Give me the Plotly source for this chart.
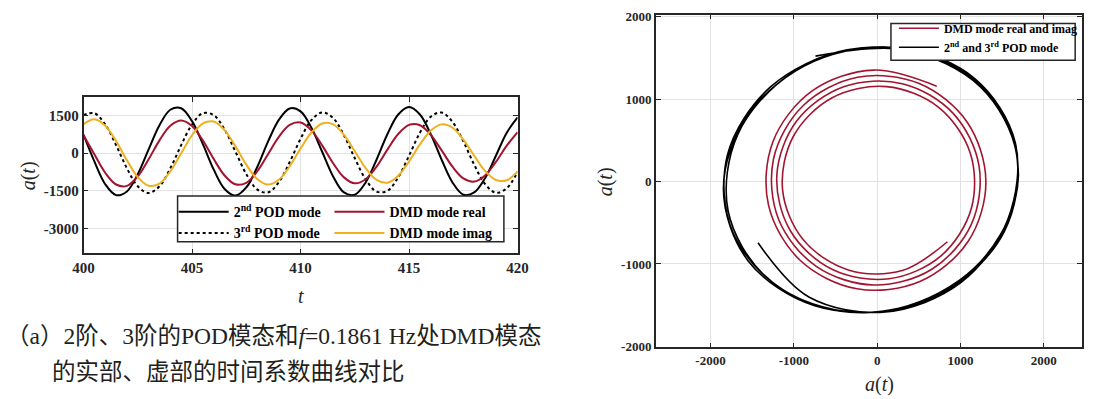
import plotly.graph_objects as go

# ---------------- data ----------------
t = [400.0, 400.5, 401.0, 401.5, 402.0, 402.5, 403.0, 403.5, 404.0, 404.5,
     405.0, 405.5, 406.0, 406.5, 407.0, 407.5, 408.0, 408.5, 409.0, 409.5,
     410.0, 410.5, 411.0, 411.5, 412.0, 412.5, 413.0, 413.5, 414.0, 414.5,
     415.0, 415.5, 416.0, 416.5, 417.0, 417.5, 418.0, 418.5, 419.0, 419.5,
     420.0]

pod2 = [740, -330, -1240, -1676, -1527, -840, 153, 1119, 1737, 1797,
        1280, 360, -656, -1428, -1695, -1369, -560, 461, 1333, 1789,
        1671, 1018, 48, -927, -1568, -1658, -1168, -261, 758, 1548,
        1845, 1548, 758, -261, -1168, -1658, -1568, -1000, -100, 820,
        1430]

pod3 = [1522, 1598, 1149, 323, -603, -1321, -1590, -1321, -604, 322,
        1148, 1598, 1522, 945, 61, -837, -1448, -1569, -1158, -354,
        576, 1321, 1632, 1406, 718, -202, -1048, -1536, -1505, -963,
        -93, 815, 1459, 1623, 1253, 472, -460, -1230, -1583, -1400,
        -742]

dmd_real = [715, -43, -780, -1251, -1304, -925, -243, 513, 1093, 1305,
            1083, 505, -235, -890, -1244, -1183, -731, -41, 656, 1129,
            1223, 912, 302, -402, -966, -1204, -1042, -536, 142, 766,
            1130, 1116, 734, 112, -540, -1007, -1135, -887, -347, 301,
            843]

dmd_imag = [1157, 1353, 1100, 484, -286, -955, -1301, -1213, -724, 0,
            717, 1190, 1265, 920, 274, -457, -1029, -1255, -1064, -522,
            187, 828, 1188, 1151, 734, 78, -597, -1068, -1180, -901,
            -326, 350, 904, 1152, 1017, 547, -100, -706, -1072, -1080,
            -730]

left_xticks = [400, 405, 410, 415, 420]
left_yticks = [-3000, -1500, 0, 1500]
left_ytext = ["-3000", "-1500", "0", "1500"]
right_ticks = [-2000, -1000, 0, 1000, 2000]
right_ticktext = ["-2000", "-1000", "0", "1000", "2000"]

legend_left = ["2<sup>nd</sup> POD mode", "3<sup>rd</sup> POD mode",
               "DMD mode real", "DMD mode imag"]
legend_right = ["DMD mode real and imag", "2<sup>nd</sup> and 3<sup>rd</sup> POD mode"]

caption1 = "（a）2阶、3阶的POD模态和<i>f</i>=0.1861 Hz处DMD模态"
caption2 = "的实部、虚部的时间系数曲线对比"

# ---------------- styling ----------------
W, H = 1095, 399
AX = "#262626"
GRID = "#e2e2e2"
RED = "#A2142F"
ORANGE = "#EDB120"
SERIF = "Liberation Serif, Times New Roman, serif"
CAPFONT = "Liberation Serif, Noto Sans CJK SC, serif"


def px_x(v):
    return v / W


def px_y(v):
    return (H - v) / H


fig = go.Figure()

# left chart
fig.add_trace(go.Scatter(x=t, y=pod2, mode="lines", name=legend_left[0],
                         line=dict(color="black", width=2, shape="spline"),
                         xaxis="x", yaxis="y", legend="legend", legendrank=1))
fig.add_trace(go.Scatter(x=t, y=pod3, mode="lines", name=legend_left[1],
                         line=dict(color="black", width=2, dash="dot", shape="spline"),
                         xaxis="x", yaxis="y", legend="legend", legendrank=2))
fig.add_trace(go.Scatter(x=t, y=dmd_real, mode="lines", name=legend_left[2],
                         line=dict(color=RED, width=2, shape="spline"),
                         xaxis="x", yaxis="y", legend="legend3", legendrank=1))
fig.add_trace(go.Scatter(x=t, y=dmd_imag, mode="lines", name=legend_left[3],
                         line=dict(color=ORANGE, width=2, shape="spline"),
                         xaxis="x", yaxis="y", legend="legend3", legendrank=2))

# right chart (phase portraits)
fig.add_trace(go.Scatter(x=[-v for v in pod2], y=pod3, mode="lines", name=legend_right[1],
                         line=dict(color="black", width=1.6, shape="spline"),
                         xaxis="x2", yaxis="y2", legend="legend2", legendrank=2))
fig.add_trace(go.Scatter(x=dmd_real, y=dmd_imag, mode="lines", name=legend_right[0],
                         line=dict(color=RED, width=1.6, shape="spline"),
                         xaxis="x2", yaxis="y2", legend="legend2", legendrank=1))

axis_common = dict(showline=True, linecolor=AX, linewidth=1.5, mirror="ticks",
                   ticks="inside", ticklen=5, tickwidth=1.2, tickcolor=AX,
                   showgrid=True, gridcolor=GRID, gridwidth=1, zeroline=False)

leg_common = dict(orientation="v", tracegroupgap=0, bgcolor="rgba(0,0,0,0)",
                  borderwidth=0, xanchor="left", yanchor="top")

fig.update_layout(
    width=W, height=H, autosize=False,
    margin=dict(l=0, r=0, t=0, b=0, pad=0),
    paper_bgcolor="white", plot_bgcolor="white",
    xaxis=dict(domain=[px_x(74), px_x(517)], range=[400, 420], tickvals=left_xticks,
               anchor="y", tickfont=dict(family=SERIF, size=15, color=AX, weight="bold"),
               **axis_common),
    yaxis=dict(domain=[px_y(256), px_y(95)], range=[-4000, 2240], tickvals=left_yticks,
               ticktext=left_ytext,
               anchor="x", tickfont=dict(family=SERIF, size=15, color=AX, weight="bold"),
               **axis_common),
    xaxis2=dict(domain=[px_x(658), px_x(1093)], range=[-2657, 2459], tickvals=right_ticks,
                ticktext=right_ticktext,
                anchor="y2", tickfont=dict(family=SERIF, size=13, color=AX, weight="bold"),
                **axis_common),
    yaxis2=dict(domain=[px_y(353), px_y(10)], range=[-2012, 2025], tickvals=right_ticks,
                ticktext=right_ticktext,
                anchor="x2", tickfont=dict(family=SERIF, size=13, color=AX, weight="bold"),
                **axis_common),
    legend=dict(x=px_x(166), y=px_y(197), itemwidth=50,
                font=dict(family=SERIF, size=14, color="black", weight="bold"), **leg_common),
    legend3=dict(x=px_x(325), y=px_y(197), itemwidth=50,
                 font=dict(family=SERIF, size=14, color="black", weight="bold"), **leg_common),
    legend2=dict(x=px_x(901), y=px_y(9), itemwidth=40,
                 font=dict(family=SERIF, size=12, color="black", weight="bold"), **leg_common),
    showlegend=True,
)

# legend frames
fig.add_shape(type="rect", xref="paper", yref="paper", layer="above",
              x0=px_x(170), x1=px_x(503), y0=px_y(244), y1=px_y(197),
              fillcolor="white", line=dict(color=AX, width=1.5))
fig.add_shape(type="rect", xref="paper", yref="paper", layer="above",
              x0=px_x(898), x1=px_x(1086), y0=px_y(57), y1=px_y(19),
              fillcolor="white", line=dict(color=AX, width=1.5))

annos = [
    dict(text="<i>a</i>(<i>t</i>)", x=px_x(18), y=px_y(176), textangle=-90,
         font=dict(family=SERIF, size=20, color=AX)),
    dict(text="<i>t</i>", x=px_x(295.5), y=px_y(300),
         font=dict(family=SERIF, size=20, color=AX)),
    dict(text="<i>a</i>(<i>t</i>)", x=px_x(886), y=px_y(391),
         font=dict(family=SERIF, size=20, color=AX)),
    dict(text="<i>a</i>(<i>t</i>)", x=px_x(607), y=px_y(182), textangle=-90,
         font=dict(family=SERIF, size=20, color=AX)),
    dict(text=caption1, x=px_x(-7), y=px_y(341), xanchor="left",
         font=dict(family=CAPFONT, size=23.5, color="#231f20")),
    dict(text=caption2, x=px_x(40), y=px_y(378), xanchor="left",
         font=dict(family=CAPFONT, size=23.5, color="#231f20")),
]
for a in annos:
    a.setdefault("xanchor", "center")
    fig.add_annotation(xref="paper", yref="paper", showarrow=False, yanchor="middle", **a)

fig.write_html("out.html")
